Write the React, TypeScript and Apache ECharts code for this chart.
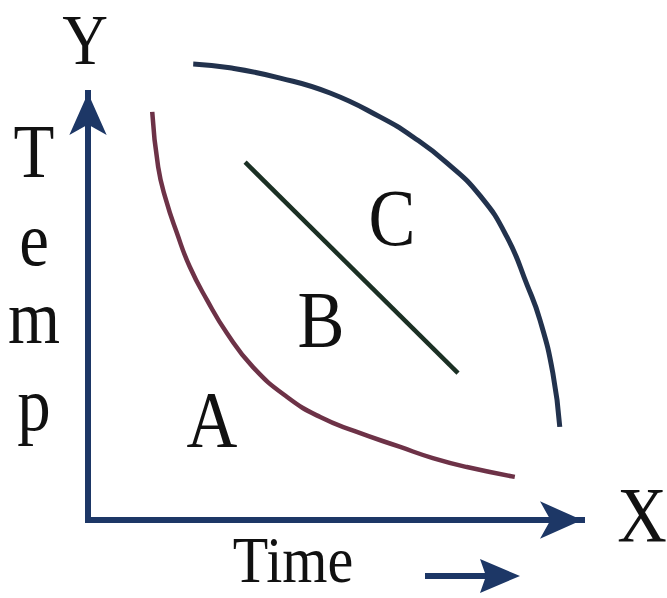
import React, { useEffect, useRef } from "react";
import * as echarts from "echarts";

// Curve A (maroon, convex cooling curve)
const curveA: [number, number][] = [
  [13.0, 95.6], [14.2, 82.7], [15.8, 74.9], [18.0, 67.2], [20.6, 59.3],
  [24.1, 51.5], [28.1, 43.8], [33.4, 35.8], [40.3, 28.8], [47.0, 24.1],
  [54.0, 20.8], [63.2, 17.1], [69.8, 14.5], [76.7, 12.4], [86.4, 10.1],
];
// Curve B (straight line)
const curveB: [number, number][] = [
  [31.8, 83.8], [74.9, 34.4],
];
// Curve C (navy, concave curve)
const curveC: [number, number][] = [
  [21.3, 106.8], [28.7, 105.9], [38.9, 103.5], [49.0, 100.0], [59.1, 94.4],
  [65.8, 89.7], [72.7, 83.6], [79.4, 75.9], [84.8, 66.3], [88.9, 55.0],
  [91.5, 46.8], [94.1, 34.4], [95.5, 21.8],
];
const curveLabels = ["A", "B", "C"];
const yTitleLetters = ["T", "e", "m", "p"];
const xTitle = "Time";

const serif = "'Liberation Serif', 'DejaVu Serif', serif";
const axisColor = "#1d3766";

export default function App() {
  const ref = useRef<HTMLDivElement>(null);
  useEffect(() => {
    if (!ref.current) return;
    const chart = echarts.init(ref.current, undefined, { renderer: "svg" });
    const txt = (text: string, x: number, y: number, size: number, sx = 0.88) => ({
      type: "text",
      x,
      y,
      scaleX: sx,
      z: 20,
      style: {
        text,
        font: `${size}px ${serif}`,
        fill: "#111",
        align: "center",
        verticalAlign: "middle",
      },
    });
    const letterY = [151, 239, 317, 404];
    const labelPos = [
      [212, 420],
      [321, 320],
      [392, 218],
    ];
    const axisLine = {
      show: true,
      symbol: ["none", "arrow"],
      symbolSize: [28, 42],
      lineStyle: { color: axisColor, width: 6, cap: "square" },
    };
    chart.setOption({
      animation: false,
      backgroundColor: "#fff",
      grid: { left: 88, right: 85, top: 93, bottom: 78, containLabel: false },
      xAxis: {
        type: "value",
        min: 0,
        max: 100,
        axisLabel: { show: false },
        axisTick: { show: false },
        splitLine: { show: false },
        axisLine,
      },
      yAxis: {
        type: "value",
        min: 0,
        max: 100,
        axisLabel: { show: false },
        axisTick: { show: false },
        splitLine: { show: false },
        axisLine,
      },
      series: [
        {
          name: "A",
          type: "line",
          data: curveA,
          smooth: 0.5,
          showSymbol: false,
          clip: false,
          lineStyle: { color: "#6d3247", width: 4.5 },
        },
        {
          name: "B",
          type: "line",
          data: curveB,
          showSymbol: false,
          clip: false,
          lineStyle: { color: "#1b3024", width: 4.5 },
        },
        {
          name: "C",
          type: "line",
          data: curveC,
          smooth: 0.5,
          showSymbol: false,
          clip: false,
          lineStyle: { color: "#22324d", width: 5 },
        },
      ],
      graphic: [
        txt("Y", 85, 40, 72),
        txt("X", 642, 515, 78),
        ...yTitleLetters.map((l, i) => txt(l, 34, letterY[i], 76)),
        ...curveLabels.map((l, i) => txt(l, labelPos[i][0], labelPos[i][1], 80)),
        txt(xTitle, 293, 560, 66, 0.88),
        {
          type: "line",
          z: 20,
          shape: { x1: 425, y1: 576, x2: 490, y2: 576 },
          style: { stroke: axisColor, lineWidth: 6 },
        },
        {
          type: "polygon",
          z: 20,
          shape: { points: [[520, 576], [480, 559], [486, 576], [480, 593]] },
          style: { fill: axisColor },
        },
      ],
    });
    return () => chart.dispose();
  }, []);
  return (
    <div
      ref={ref}
      style={{ position: "absolute", left: 0, top: 0, width: 667, height: 598 }}
    />
  );
}
